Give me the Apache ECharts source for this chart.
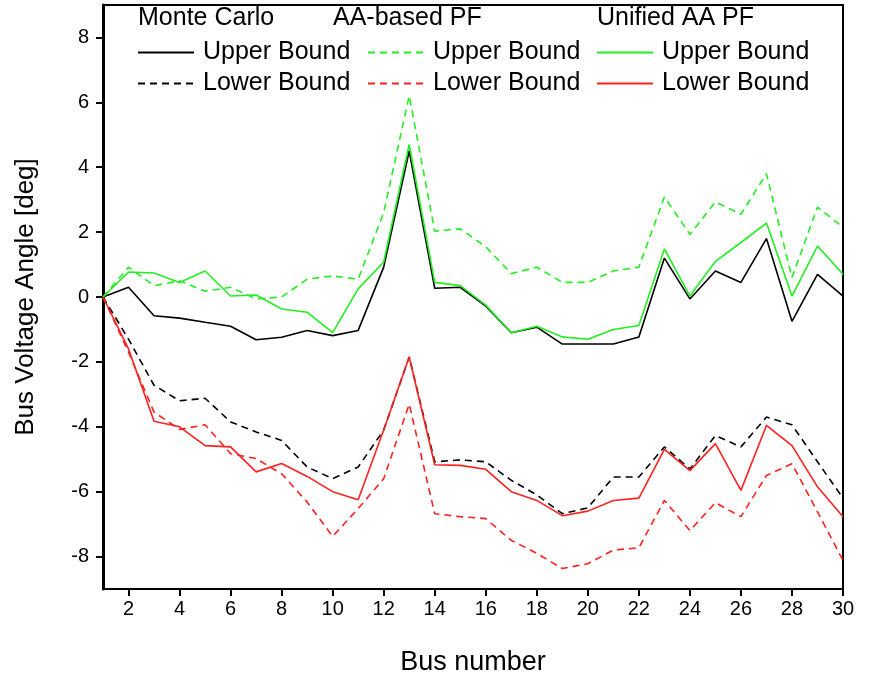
<!DOCTYPE html>
<html>
<head>
<meta charset="utf-8">
<script src="https://cdn.jsdelivr.net/npm/echarts@6/dist/echarts.min.js"></script>
<style>html,body{margin:0;padding:0;background:#fff}#main{width:872px;height:681px}</style>
</head>
<body>
<div id="main"></div>
<script>
// 母线编号 1..30
const buses = Array.from({ length: 30 }, (_, i) => i + 1);
const xTicks = [2, 4, 6, 8, 10, 12, 14, 16, 18, 20, 22, 24, 26, 28, 30];
const yTicks = [-8, -6, -4, -2, 0, 2, 4, 6, 8];

const mcUpper = [0, 0.3, -0.58, -0.65, -0.78, -0.9, -1.32, -1.24, -1.03, -1.19, -1.03, 0.92, 4.5, 0.27, 0.3,
    -0.28, -1.1, -0.93, -1.45, -1.45, -1.45, -1.23, 1.2, -0.06, 0.8, 0.45, 1.8, -0.75, 0.7, 0.03];
const mcLower = [0, -1.3, -2.72, -3.2, -3.12, -3.85, -4.16, -4.42, -5.24, -5.6, -5.24, -4.1, -1.85, -5.08, -5.02,
    -5.08, -5.65, -6.1, -6.68, -6.5, -5.55, -5.55, -4.62, -5.3, -4.27, -4.62, -3.7, -3.94, -5.08, -6.2];
const aaUpper = [0, 0.92, 0.35, 0.5, 0.18, 0.3, -0.06, 0, 0.55, 0.65, 0.55, 2.6, 6.2, 2.03, 2.1,
    1.55, 0.72, 0.92, 0.45, 0.45, 0.8, 0.92, 3.08, 1.93, 2.93, 2.55, 3.8, 0.6, 2.77, 2.15];
const aaLower = [0, -1.7, -3.55, -4.08, -3.94, -4.83, -4.98, -5.45, -6.32, -7.38, -6.52, -5.6, -3.3, -6.68, -6.77,
    -6.83, -7.5, -7.9, -8.37, -8.22, -7.8, -7.73, -6.27, -7.2, -6.34, -6.77, -5.5, -5.14, -6.62, -8.12];
const uniUpper = [0, 0.77, 0.74, 0.45, 0.8, 0.03, 0.06, -0.37, -0.47, -1.1, 0.25, 1.08, 4.7, 0.45, 0.35,
    -0.25, -1.1, -0.9, -1.23, -1.3, -1.0, -0.88, 1.48, 0.03, 1.1, 1.68, 2.28, 0.03, 1.57, 0.7];
const uniLower = [0, -1.6, -3.83, -4.0, -4.58, -4.62, -5.39, -5.13, -5.53, -6.0, -6.25, -4.1, -1.85, -5.17, -5.19,
    -5.31, -6.0, -6.27, -6.74, -6.6, -6.27, -6.2, -4.7, -5.35, -4.52, -5.96, -3.96, -4.58, -5.85, -6.77];

function chart() {
    let myChart = echarts.init(document.querySelector('#main'));
    const font = 'Liberation Sans, Arial, sans-serif';
    const pair = (v) => buses.map((b, i) => [b, v[i]]);
    const line = (name, data, color, dashed) => ({
        name: name,
        type: 'line',
        data: pair(data),
        symbol: 'none',
        lineStyle: { color: color, width: 1.6, type: dashed ? [7, 5] : 'solid' },
        itemStyle: { color: color }
    });
    const legendCol = (left, names) => ({
        left: left,
        top: 35,
        orient: 'vertical',
        itemGap: 6,
        itemWidth: 56,
        itemHeight: 26,
        data: names,
        itemStyle: { opacity: 0 },
        formatter: (n) => n.indexOf('Upper') >= 0 ? 'Upper Bound' : 'Lower Bound',
        textStyle: { fontFamily: font, fontSize: 25, color: '#000', padding: [0, 0, 0, 4] }
    });
    let option = {
        animation: false,
        grid: { left: 103, right: 29, top: 5, bottom: 91, show: true, borderColor: '#000', borderWidth: 2 },
        graphic: [
            { type: 'text', left: 138, top: 6, style: { text: 'Monte Carlo', font: '25px ' + font, fill: '#000' } },
            { type: 'text', left: 333, top: 6, style: { text: 'AA-based PF', font: '25px ' + font, fill: '#000' } },
            { type: 'text', left: 597, top: 6, style: { text: 'Unified AA PF', font: '25px ' + font, fill: '#000' } }
        ],
        legend: [
            legendCol(132, ['MC Upper', 'MC Lower']),
            legendCol(362, ['AA Upper', 'AA Lower']),
            legendCol(591, ['Unified Upper', 'Unified Lower'])
        ],
        xAxis: {
            type: 'value',
            min: 1,
            max: 30,
            name: 'Bus number',
            nameLocation: 'middle',
            nameGap: 60,
            nameTextStyle: { fontFamily: font, fontSize: 27, color: '#000' },
            splitLine: { show: false },
            axisLine: { onZero: false, lineStyle: { color: '#000', width: 2 } },
            axisTick: { customValues: xTicks, length: 7, lineStyle: { color: '#000', width: 2 } },
            axisLabel: { customValues: xTicks, fontFamily: font, fontSize: 20, color: '#000', margin: 10 }
        },
        yAxis: {
            type: 'value',
            min: -9,
            max: 9,
            name: 'Bus Voltage Angle [deg]',
            nameLocation: 'middle',
            nameGap: 64,
            nameTextStyle: { fontFamily: font, fontSize: 26, color: '#000' },
            splitLine: { show: false },
            axisLine: { onZero: false, lineStyle: { color: '#000', width: 3 } },
            axisTick: { customValues: yTicks, length: 7, lineStyle: { color: '#000', width: 2 } },
            axisLabel: { customValues: yTicks, fontFamily: font, fontSize: 20, color: '#000', margin: 14 }
        },
        series: [
            line('MC Upper', mcUpper, '#000000', false),
            line('MC Lower', mcLower, '#000000', true),
            line('AA Upper', aaUpper, '#22ee22', true),
            line('AA Lower', aaLower, '#ff2020', true),
            line('Unified Upper', uniUpper, '#22ee22', false),
            line('Unified Lower', uniLower, '#ff2020', false)
        ]
    };
    myChart.setOption(option);
}
chart();
</script>
</body>
</html>
